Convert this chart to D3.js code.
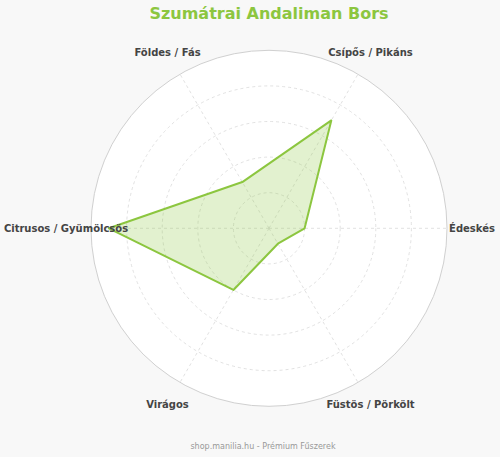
<!DOCTYPE html>
<html><head><meta charset="utf-8">
<script src="https://cdn.jsdelivr.net/npm/d3@7"></script>
<style>
html,body{margin:0;padding:0;background:#f8f8f8;}
svg{display:block;font-family:"DejaVu Sans",sans-serif;}
</style></head>
<body><svg id="c" width="500" height="457"></svg>
<script>
const categories = ["Édeskés","Csípős / Pikáns","Földes / Fás","Citrusos / Gyümölcsös","Virágos","Füstös / Pörkölt"];
const values = [2, 7, 3, 9, 4, 1];
const ringTicks = [2, 4, 6, 8, 10];
const maxValue = 10;
const title = "Szumátrai Andaliman Bors";
const footer = "shop.manilia.hu - Prémium Fűszerek";

const svg = d3.select("#c");
const cx = 269, cy = 228.3, R = 178;
const green = "#8cc63f";
const r = d3.scaleLinear().domain([0, maxValue]).range([0, R]);
const ang = d3.scaleLinear().domain([0, categories.length]).range([0, 2*Math.PI]);
const g = svg.append("g").attr("transform", `translate(${cx},${cy})`);

g.append("circle").attr("r", r(maxValue)).attr("fill", "#fff");

g.selectAll("circle.ring").data(ringTicks.filter(d => d < maxValue)).join("circle")
  .attr("class","ring").attr("r", d => r(d)).attr("fill","none")
  .attr("stroke","#d9d9d9").attr("stroke-width",0.8).attr("stroke-dasharray","3,3");

g.selectAll("line.spoke").data(categories).join("line")
  .attr("class","spoke")
  .attr("x1",0).attr("y1",0)
  .attr("x2",(d,i)=>r(maxValue)*Math.cos(ang(i)))
  .attr("y2",(d,i)=>-r(maxValue)*Math.sin(ang(i)))
  .attr("stroke","#d9d9d9").attr("stroke-width",0.8).attr("stroke-dasharray","3,3");

g.append("circle").attr("r", r(maxValue)).attr("fill","none").attr("stroke","#d0d0d0").attr("stroke-width",1);

const line = d3.lineRadial().angle((d,i)=>Math.PI/2 - ang(i)).radius(d=>r(d)).curve(d3.curveLinearClosed);
g.append("path").datum(values).attr("d", line)
  .attr("fill", green).attr("fill-opacity",0.25)
  .attr("stroke", green).attr("stroke-width",2).attr("stroke-linejoin","round");

const LR = 203;
g.selectAll("text.lab").data(categories).join("text")
  .attr("class","lab")
  .attr("x",(d,i)=>LR*Math.cos(ang(i)))
  .attr("y",(d,i)=>-LR*Math.sin(ang(i)))
  .attr("text-anchor","middle").attr("dominant-baseline","central")
  .attr("font-size",10).attr("font-weight","bold").attr("fill","#444")
  .text(d=>d);

svg.append("text").attr("x",cx).attr("y",19).attr("text-anchor","middle")
  .attr("font-size",16).attr("font-weight","bold").attr("fill",green).text(title);

svg.append("text").attr("x",263).attr("y",449).attr("text-anchor","middle")
  .attr("font-size",8).attr("fill","#999").text(footer);
</script></body></html>
